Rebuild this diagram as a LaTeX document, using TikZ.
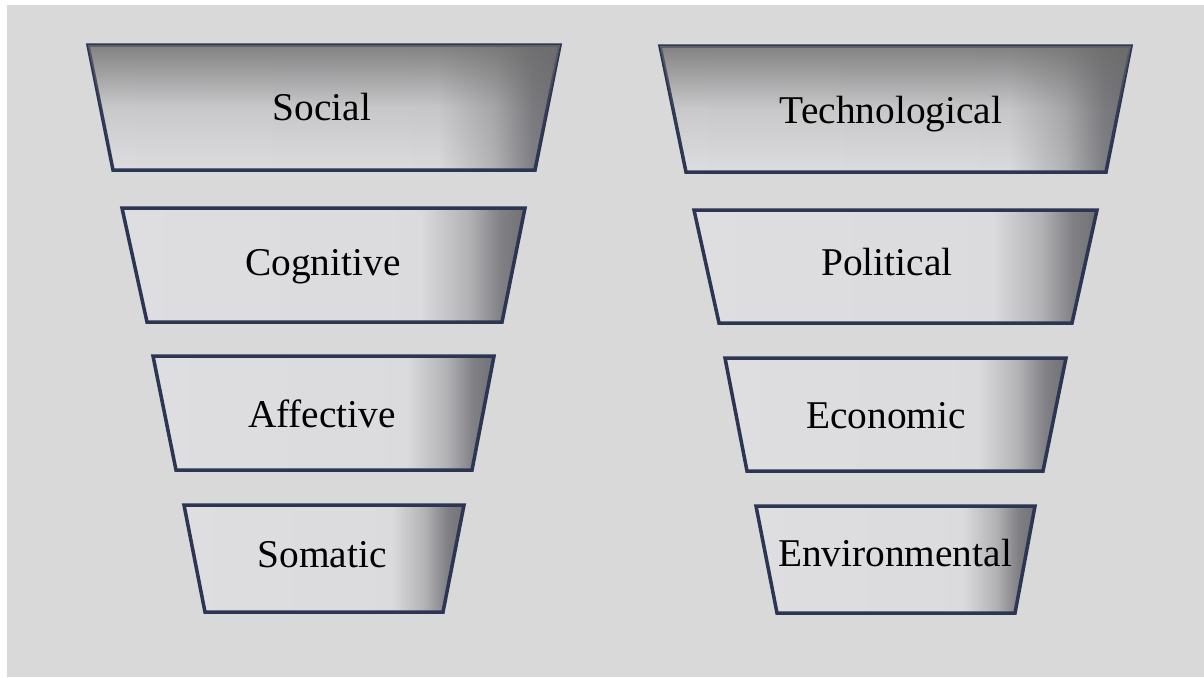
\documentclass[tikz,border=0pt]{standalone}
\usepackage{fontspec}
\setmainfont{Liberation Serif}
\usetikzlibrary{fadings}

\definecolor{pagegray}{RGB}{217,217,217}
\definecolor{rimblue}{RGB}{44,54,84}

\pgfdeclarehorizontalshading{layershade}{100bp}{%
  rgb(0bp)=(.87,.87,.88); rgb(25bp)=(.87,.87,.88); rgb(62bp)=(.86,.86,.87);
  rgb(68bp)=(.70,.70,.71); rgb(72bp)=(.50,.50,.52); rgb(75bp)=(.44,.44,.46);
  rgb(100bp)=(.44,.44,.46)}
\tikzfading[name = fade top, top color = transparent!20,
            bottom color = transparent!100, middle color = transparent!82]

\begin{document}
\begin{tikzpicture}[layer/.style = {draw = rimblue, line width = 1pt, shade,
                        shading = layershade},
                    top layer/.style = {layer, postaction = {fill = black!58,
                        path fading = fade top}},
                    every node/.style = {inner sep = 0pt, text height = 1.6ex,
                        text depth = 0.4ex, font = \fontsize{11.2}{13}\selectfont}]
      \fill [pagegray] (0.07, 0) rectangle (12.04, 6.72);
      \useasboundingbox (0, 0) rectangle (12.04, 6.77);

      % left column
      \path [top layer] (0.88, 6.32) -- (5.60, 6.32) -- (5.35, 5.07) -- (1.13, 5.07) -- cycle;
      \node (l0) at (3.22, 5.66) {Social};

      \path [layer] (1.22, 4.69) -- (5.25, 4.69) -- (5.02, 3.55) -- (1.47, 3.55) -- cycle;
      \node (l1) at (3.23, 4.11) {Cognitive};

      \path [layer] (1.53, 3.21) -- (4.94, 3.21) -- (4.72, 2.07) -- (1.76, 2.07) -- cycle;
      \node (l2) at (3.22, 2.59) {Affective};

      \path [layer] (1.84, 1.72) -- (4.64, 1.72) -- (4.43, 0.65) -- (2.05, 0.65) -- cycle;
      \node (l3) at (3.22, 1.19) {Somatic};

      % right column
      \path [top layer] (6.60, 6.31) -- (11.31, 6.31) -- (11.06, 5.05) -- (6.86, 5.05) -- cycle;
      \node (r0) at (8.91, 5.63) {Technological};

      \path [layer] (6.94, 4.67) -- (10.97, 4.67) -- (10.72, 3.54) -- (7.19, 3.54) -- cycle;
      \node (r1) at (8.87, 4.11) {Political};

      \path [layer] (7.25, 3.19) -- (10.66, 3.19) -- (10.43, 2.06) -- (7.47, 2.06) -- cycle;
      \node (r2) at (8.86, 2.58) {Economic};

      \path [layer] (7.56, 1.71) -- (10.35, 1.71) -- (10.15, 0.64) -- (7.77, 0.64) -- cycle;
      \node (r3) at (8.95, 1.20) {Environmental};
    \end{tikzpicture}
\end{document}
